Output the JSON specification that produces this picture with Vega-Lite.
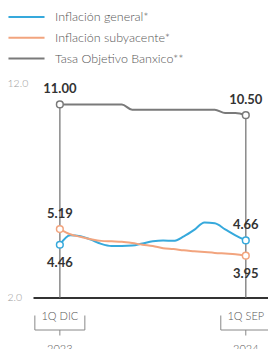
{
  "$schema": "https://vega.github.io/schema/vega-lite/v6.json",
  "autosize": {"type": "none"},
  "padding": {"left": 33, "top": 83, "right": 0, "bottom": 52},
  "width": 235,
  "height": 214.5,
  "background": "white",
  "config": {"view": {"stroke": null}, "font": "Lato"},
  "datasets": {
    "series": [
      {"i": 0, "Inflación general*": 4.46, "Inflación subyacente*": 5.19, "Tasa Objetivo Banxico**": 11.0},
      {"i": 1, "Inflación general*": 4.90, "Inflación subyacente*": 4.95, "Tasa Objetivo Banxico**": 11.0},
      {"i": 2, "Inflación general*": 4.86, "Inflación subyacente*": 4.83, "Tasa Objetivo Banxico**": 11.0},
      {"i": 3, "Inflación general*": 4.70, "Inflación subyacente*": 4.72, "Tasa Objetivo Banxico**": 11.0},
      {"i": 4, "Inflación general*": 4.50, "Inflación subyacente*": 4.64, "Tasa Objetivo Banxico**": 11.0},
      {"i": 5, "Inflación general*": 4.40, "Inflación subyacente*": 4.62, "Tasa Objetivo Banxico**": 11.0},
      {"i": 6, "Inflación general*": 4.40, "Inflación subyacente*": 4.60, "Tasa Objetivo Banxico**": 11.0},
      {"i": 7, "Inflación general*": 4.42, "Inflación subyacente*": 4.54, "Tasa Objetivo Banxico**": 10.75},
      {"i": 8, "Inflación general*": 4.52, "Inflación subyacente*": 4.46, "Tasa Objetivo Banxico**": 10.75},
      {"i": 9, "Inflación general*": 4.62, "Inflación subyacente*": 4.40, "Tasa Objetivo Banxico**": 10.75},
      {"i": 10, "Inflación general*": 4.66, "Inflación subyacente*": 4.30, "Tasa Objetivo Banxico**": 10.75},
      {"i": 11, "Inflación general*": 4.64, "Inflación subyacente*": 4.26, "Tasa Objetivo Banxico**": 10.75},
      {"i": 12, "Inflación general*": 4.85, "Inflación subyacente*": 4.20, "Tasa Objetivo Banxico**": 10.75},
      {"i": 13, "Inflación general*": 5.15, "Inflación subyacente*": 4.16, "Tasa Objetivo Banxico**": 10.75},
      {"i": 14, "Inflación general*": 5.50, "Inflación subyacente*": 4.12, "Tasa Objetivo Banxico**": 10.75},
      {"i": 15, "Inflación general*": 5.46, "Inflación subyacente*": 4.08, "Tasa Objetivo Banxico**": 10.75},
      {"i": 16, "Inflación general*": 5.18, "Inflación subyacente*": 4.05, "Tasa Objetivo Banxico**": 10.6},
      {"i": 17, "Inflación general*": 4.90, "Inflación subyacente*": 4.02, "Tasa Objetivo Banxico**": 10.6},
      {"i": 18, "Inflación general*": 4.66, "Inflación subyacente*": 3.95, "Tasa Objetivo Banxico**": 10.5}
    ],
    "hitos": [
      {"i": 0, "periodo": "1Q DIC", "anio": "2023", "base": 2},
      {"i": 18, "periodo": "1Q SEP", "anio": "2024", "base": 2}
    ]
  },
  "layer": [
    {
      "data": {"name": "series"},
      "transform": [
        {"fold": ["Inflación general*", "Inflación subyacente*", "Tasa Objetivo Banxico**"], "as": ["serie", "valor"]}
      ],
      "encoding": {
        "x": {"field": "i", "type": "quantitative", "scale": {"domain": [-2.6, 20.15], "nice": false, "zero": false},
              "axis": {"title": null, "labels": false, "ticks": false, "grid": false, "domainColor": "#333", "domainWidth": 2}},
        "y": {"field": "valor", "type": "quantitative", "scale": {"domain": [2, 12], "nice": false, "zero": false},
              "axis": {"title": null, "values": [2, 12], "format": ".1f", "domain": false, "ticks": false, "tickSize": 0, "grid": false,
                       "labelAlign": "left", "labelPadding": 26, "labelColor": "#999", "labelFontSize": 10.5, "labelFontWeight": 300, "labelFont": "Lato"}}
      },
      "layer": [
        {
          "transform": [{"filter": "datum.serie == 'Tasa Objetivo Banxico**' && (datum.i == 0 || datum.i == 18)"}],
          "mark": {"type": "rule", "color": "#8a8a8a", "strokeWidth": 1.5},
          "encoding": {"y2": {"datum": 2}}
        },
        {
          "mark": {"type": "line", "strokeWidth": 2, "interpolate": "monotone"},
          "encoding": {
            "color": {"field": "serie", "type": "nominal",
                      "scale": {"domain": ["Inflación general*", "Inflación subyacente*", "Tasa Objetivo Banxico**"], "range": ["#36a9dc", "#f2a47e", "#7a7a7a"]},
                      "legend": {"title": null, "orient": "none", "legendX": -26, "legendY": -76, "padding": 0,
                                 "symbolType": "stroke", "symbolSize": 1300, "symbolStrokeWidth": 2, "clipHeight": 20, "rowPadding": 0.8,
                                 "labelOffset": 9, "labelFont": "Lato", "labelFontSize": 12.5, "labelFontWeight": 300, "labelColor": "#555"}}
          }
        },
        {
          "transform": [{"filter": "datum.i == 0 || datum.i == 18"}],
          "mark": {"type": "point", "filled": true, "fill": "white", "size": 45, "strokeWidth": 1.5, "opacity": 1},
          "encoding": {"stroke": {"field": "serie", "type": "nominal", "legend": null,
                      "scale": {"domain": ["Inflación general*", "Inflación subyacente*", "Tasa Objetivo Banxico**"], "range": ["#36a9dc", "#f2a47e", "#7a7a7a"]}}}
        },
        {
          "transform": [{"filter": "(datum.serie == 'Tasa Objetivo Banxico**' && (datum.i == 0 || datum.i == 18)) || (datum.serie == 'Inflación general*' && datum.i == 18) || (datum.serie == 'Inflación subyacente*' && datum.i == 0)"}],
          "mark": {"type": "text", "dy": -15, "baseline": "middle", "align": "center", "font": "Lato", "fontSize": 13, "fontWeight": "bold", "color": "#333"},
          "encoding": {"text": {"field": "valor", "type": "quantitative", "format": ".2f"}}
        },
        {
          "transform": [{"filter": "(datum.serie == 'Inflación general*' && datum.i == 0) || (datum.serie == 'Inflación subyacente*' && datum.i == 18)"}],
          "mark": {"type": "text", "dy": 18, "baseline": "middle", "align": "center", "font": "Lato", "fontSize": 13, "fontWeight": "bold", "color": "#333"},
          "encoding": {"text": {"field": "valor", "type": "quantitative", "format": ".2f"}}
        }
      ]
    },
    {
      "data": {"name": "hitos"},
      "encoding": {
        "x": {"field": "i", "type": "quantitative"},
        "y": {"field": "base", "type": "quantitative"}
      },
      "layer": [
        {
          "mark": {"type": "text", "dy": 19.5, "baseline": "middle", "align": "center", "font": "Lato", "fontSize": 11, "fontWeight": 300, "color": "#555"},
          "encoding": {"text": {"field": "periodo"}}
        },
        {
          "mark": {"type": "text", "dy": 52, "baseline": "middle", "align": "center", "font": "Lato", "fontSize": 11, "fontWeight": 300, "color": "#555"},
          "encoding": {"text": {"field": "anio"}}
        },
        {
          "mark": {"type": "rule", "color": "#888", "strokeWidth": 1, "xOffset": -25, "x2Offset": 25, "yOffset": 32.5},
          "encoding": {"x2": {"field": "i"}}
        },
        {
          "mark": {"type": "rule", "color": "#888", "strokeWidth": 1, "yOffset": 32.5, "y2Offset": 38},
          "encoding": {"y2": {"field": "base"}}
        },
        {
          "mark": {"type": "rule", "color": "#888", "strokeWidth": 1, "xOffset": -25, "yOffset": 18, "y2Offset": 32.5},
          "encoding": {"y2": {"field": "base"}}
        },
        {
          "mark": {"type": "rule", "color": "#888", "strokeWidth": 1, "xOffset": 25, "yOffset": 18, "y2Offset": 32.5},
          "encoding": {"y2": {"field": "base"}}
        }
      ]
    }
  ]
}
